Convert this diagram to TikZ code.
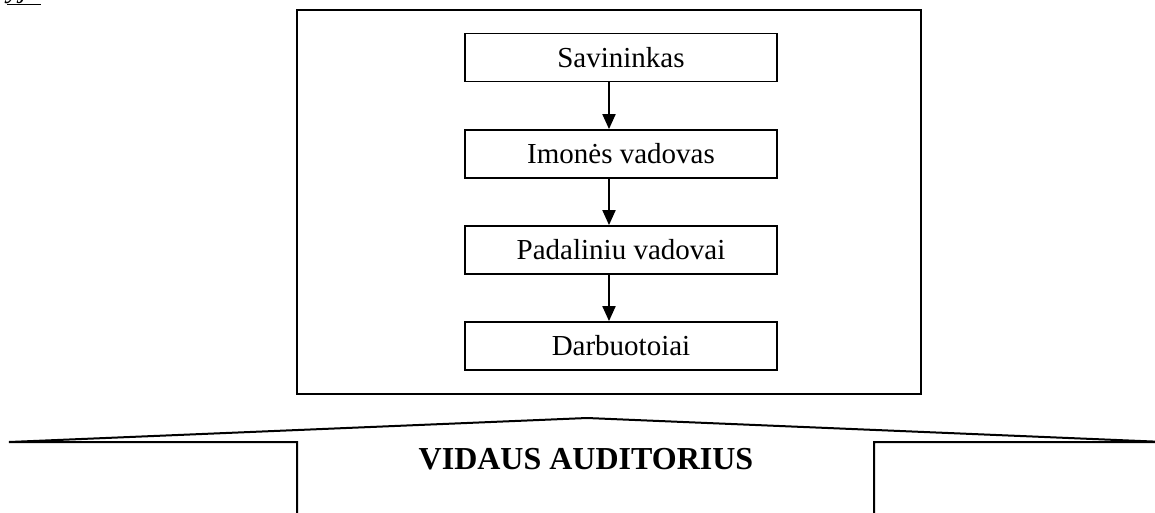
\documentclass[tikz,border=0pt]{standalone}
\usepackage{fontspec}
\setmainfont{Liberation Serif}
\usetikzlibrary{arrows.meta}
\begin{document}
\begin{tikzpicture}[x=1pt,y=-1pt,
  rolebox/.style={draw, line width=1.8pt, rectangle, minimum width=312pt,
    minimum height=48pt, inner sep=0pt, font=\fontsize{29}{34}\selectfont},
  frame/.style={draw, line width=2pt, rectangle, minimum width=624pt,
    minimum height=384pt, inner sep=0pt},
  flow/.style={line width=2pt, -{Triangle[length=15pt,width=13pt]}},
  blockarrow/.style={line width=2pt, line join=miter}]
  \useasboundingbox (0,0) rectangle (1155,512);

  % caption fragment at the top edge
  \node[anchor=base east, inner sep=0pt, font=\fontsize{29}{34}\selectfont\itshape]
    (cap) at (41,-3) {\underline{yje}};

  % outer frame
  \node[frame] (outer) at (609,202) {};

  % hierarchy
  \node[rolebox] (own) at (621,57.5) {Savininkas};
  \node[rolebox] (head) at (621,154) {Imonės vadovas};
  \node[rolebox] (dept) at (621,250) {Padaliniu vadovai};
  \node[rolebox] (staff) at (621,346) {Darbuotoiai};

  \draw[flow] ([xshift=-12pt]own.south) -- ([xshift=-12pt]head.north);
  \draw[flow] ([xshift=-12pt]head.south) -- ([xshift=-12pt]dept.north);
  \draw[flow] ([xshift=-12pt]dept.south) -- ([xshift=-12pt]staff.north);

  % upward block arrow of the internal audience
  \coordinate (apex) at (587,418);
  \draw[blockarrow] (297,520) -- (297,442) -- (9,442) -- (apex) -- (1165,442)
    -- (874,442) -- (874,520);
  \node[font=\fontsize{32}{38}\selectfont\bfseries] (aud) at (586,459)
    {VIDAUS AUDITORIUS};
\end{tikzpicture}
\end{document}
